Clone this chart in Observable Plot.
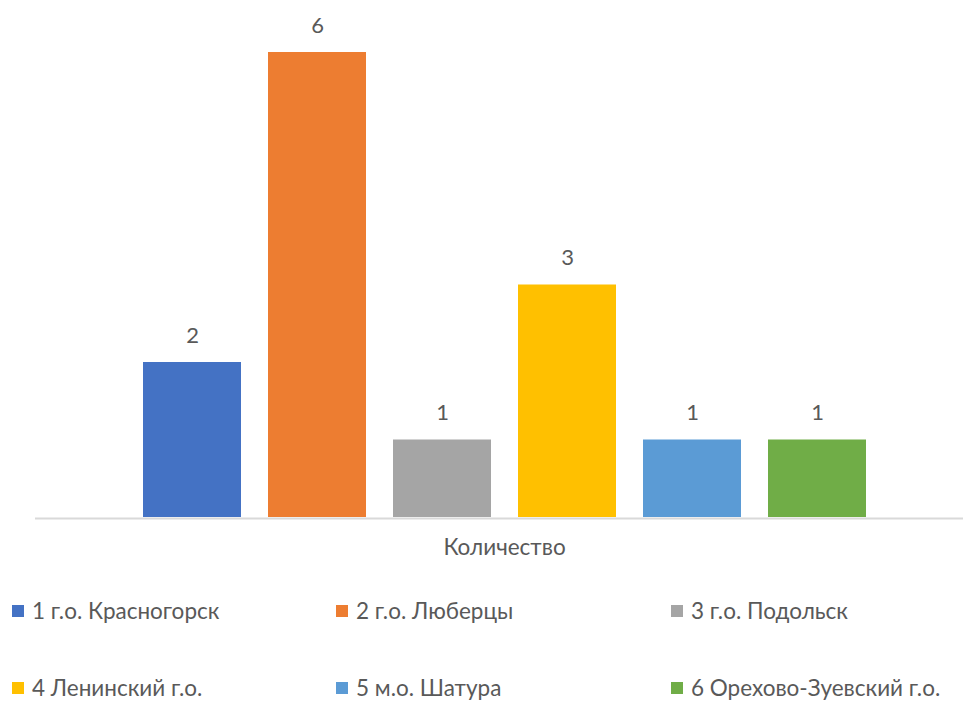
<!DOCTYPE html>
<html>
<head>
<meta charset="utf-8">
<script src="https://cdn.jsdelivr.net/npm/d3@7"></script>
<script src="https://cdn.jsdelivr.net/npm/@observablehq/plot@0.6"></script>
<style>
  html, body { margin: 0; padding: 0; background: #fff; overflow: hidden; }
  #chart svg { display: block; }
  #legend {
    width: 963px;
    padding-top: 2px;
    display: grid;
    grid-template-columns: 336px 335px 292px;
    grid-auto-rows: 77px;
    font-family: Lato, "Noto Sans", sans-serif;
    font-size: 22.5px;
    color: #595959;
  }
  .item { display: flex; align-items: center; white-space: nowrap; }
  .item:nth-child(3n+1) { padding-left: 12px; }
  .sw { width: 12px; height: 12px; margin-right: 8px; flex: none; }
</style>
</head>
<body>
<div id="chart"></div>
<div id="legend"></div>
<script>
const series = ["1 г.о. Красногорск", "2 г.о. Люберцы", "3 г.о. Подольск", "4 Ленинский г.о.", "5 м.о. Шатура", "6 Орехово-Зуевский г.о."];
const values = [2, 6, 1, 3, 1, 1];
const colors = ["#4472C4", "#ED7D31", "#A5A5A5", "#FFC000", "#5B9BD5", "#70AD47"];
const categoryLabel = "Количество";

const data = series.map((s, i) => ({series: s, value: values[i]}));

const chart = Plot.plot({
  width: 963,
  height: 570,
  marginLeft: 35,
  marginRight: 0,
  marginTop: 52,
  marginBottom: 53,
  style: {fontFamily: "Lato, 'Noto Sans', sans-serif", color: "#595959", background: "#fff"},
  x: {domain: series, range: [143, 866], paddingInner: 0.216, paddingOuter: 0, axis: null},
  y: {domain: [0, 6], axis: null},
  color: {domain: series, range: colors},
  marks: [
    Plot.barY(data, {x: "series", y: "value", fill: "series"}),
    Plot.text(data, {x: "series", y: "value", text: d => String(d.value), dy: -27, fontSize: 22, fill: "#595959"}),
    Plot.ruleY([0], {stroke: "#d9d9d9", strokeWidth: 2, dy: 1}),
    Plot.text([categoryLabel], {frameAnchor: "bottom", dy: 37, dx: 5, fontSize: 22.5, fill: "#595959"})
  ]
});
document.getElementById("chart").appendChild(chart);

const legend = document.getElementById("legend");
series.forEach((s, i) => {
  const item = document.createElement("div");
  item.className = "item";
  const sw = document.createElement("span");
  sw.className = "sw";
  sw.style.background = colors[i];
  const t = document.createElement("span");
  t.textContent = s;
  item.appendChild(sw);
  item.appendChild(t);
  legend.appendChild(item);
});
</script>
</body>
</html>
